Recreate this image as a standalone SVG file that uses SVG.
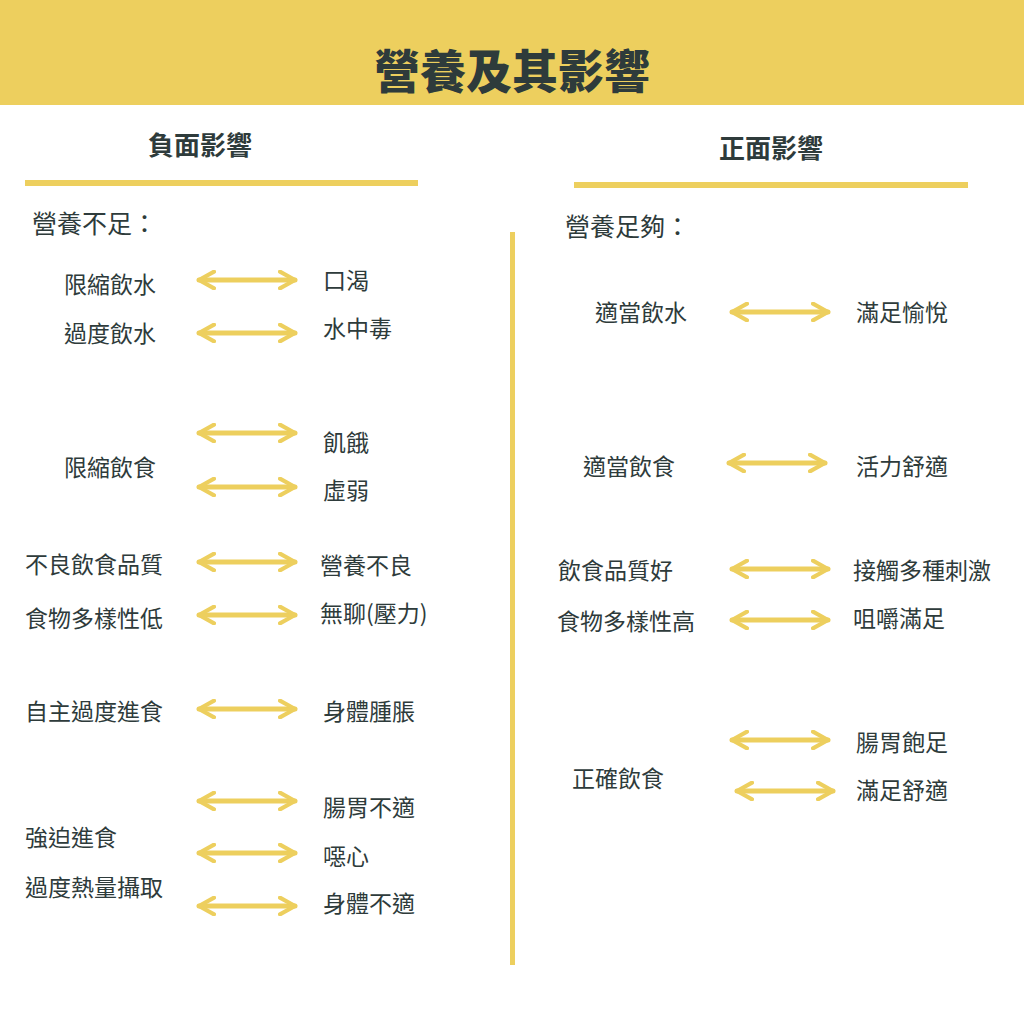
<svg xmlns="http://www.w3.org/2000/svg" width="1024" height="1024" viewBox="0 0 1024 1024">
<style>
text{font-family:"Noto Sans CJK TC","Noto Sans CJK SC",sans-serif;fill:#2e3b3b;dominant-baseline:central}
.t{font-size:23px}
.h{font-size:26px;font-weight:bold}
.s{font-size:25px}
.a{stroke:#edcf5e;stroke-width:5;fill:none;stroke-linecap:round;marker-start:url(#m);marker-end:url(#m)}
</style>
<defs>
<marker id="m" viewBox="0 0 12 12" refX="10" refY="6" markerWidth="4" markerHeight="4" orient="auto-start-reverse" markerUnits="strokeWidth">
<path d="M1,1 L10,6 L1,11" fill="none" stroke="#edcf5e" stroke-width="2.5" stroke-linecap="round" stroke-linejoin="round"/>
</marker>
</defs>
<rect width="1024" height="1024" fill="#fff"/>
<g id="banner"><rect x="0" y="0" width="1024" height="105" fill="#edcf5e"/>
<text x="512" y="68" text-anchor="middle" style="font-size:46px;font-weight:900">營養及其影響</text></g>
<g id="left-header"><text class="h" x="200" y="143" text-anchor="middle">負面影響</text><rect x="25" y="180" width="393" height="6" fill="#edcf5e"/>
<text class="s" x="32" y="222">營養不足：</text></g>
<g id="right-header"><text class="h" x="771" y="146" text-anchor="middle">正面影響</text><rect x="574" y="182" width="394" height="6" fill="#edcf5e"/>
<text class="s" x="565" y="225">營養足夠：</text></g>
<rect x="510" y="232" width="5" height="733" fill="#edcf5e"/>
<g id="left-nodes" class="t">
<text class="t" x="64" y="283">限縮飲水</text><text class="t" x="323" y="279">口渴</text>
<text class="t" x="64" y="332">過度飲水</text><text class="t" x="323" y="327">水中毒</text>
<text class="t" x="323" y="441">飢餓</text><text class="t" x="64" y="466">限縮飲食</text><text class="t" x="323" y="489">虛弱</text>
<text class="t" x="25" y="563">不良飲食品質</text><text class="t" x="320" y="564">營養不良</text>
<text class="t" x="25" y="617">食物多樣性低</text><text class="t" x="320" y="612">無聊(壓力)</text>
<text class="t" x="25" y="710">自主過度進食</text><text class="t" x="323" y="710">身體腫脹</text>
<text class="t" x="323" y="806">腸胃不適</text><text class="t" x="25" y="836">強迫進食</text>
<text class="t" x="323" y="855">噁心</text><text class="t" x="25" y="886">過度熱量攝取</text>
<text class="t" x="323" y="902">身體不適</text>
</g>
<g id="right-nodes">
<text class="t" x="595" y="311">適當飲水</text><text class="t" x="856" y="311">滿足愉悅</text>
<text class="t" x="583" y="465">適當飲食</text><text class="t" x="856" y="465">活力舒適</text>
<text class="t" x="558" y="569">飲食品質好</text><text class="t" x="853" y="569">接觸多種刺激</text>
<text class="t" x="557" y="620">食物多樣性高</text><text class="t" x="853" y="617">咀嚼滿足</text>
<text class="t" x="856" y="741">腸胃飽足</text><text class="t" x="572" y="777">正確飲食</text>
<text class="t" x="856" y="789">滿足舒適</text>
</g>
<g id="connectors">
<path class="a" d="M199,280H295"/><path class="a" d="M199,333H295"/>
<path class="a" d="M199,433H295"/><path class="a" d="M199,487H295"/>
<path class="a" d="M199,562H295"/><path class="a" d="M199,615H295"/>
<path class="a" d="M199,709H295"/><path class="a" d="M199,801H295"/>
<path class="a" d="M199,853H295"/><path class="a" d="M199,906H295"/>
<path class="a" d="M732,312H828"/><path class="a" d="M729,463H825"/>
<path class="a" d="M732,569H828"/><path class="a" d="M732,620H828"/>
<path class="a" d="M732,740H828"/><path class="a" d="M737,791H833"/>
</g>
</svg>
